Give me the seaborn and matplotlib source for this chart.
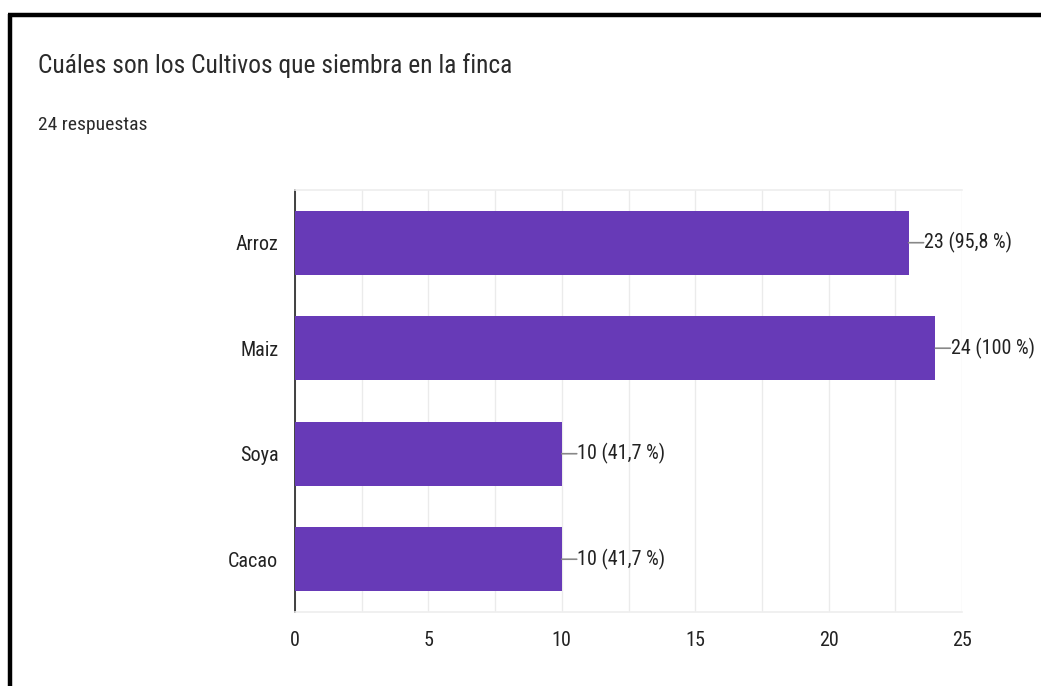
import matplotlib
matplotlib.use("Agg")
import matplotlib.pyplot as plt
from matplotlib.lines import Line2D
from matplotlib import font_manager
import seaborn as sns
import pandas as pd

categories = ["Arroz", "Maiz", "Soya", "Cacao"]
values = [23, 24, 10, 10]
labels = ["23 (95,8 %)", "24 (100 %)", "10 (41,7 %)", "10 (41,7 %)"]
xticks = [0, 5, 10, 15, 20, 25]
title = "Cuáles son los Cultivos que siembra en la finca"
subtitle = "24 respuestas"

sns.set_theme(style="white")
names = {f.name for f in font_manager.fontManager.ttflist}
fam = "DejaVu Sans"
for cand in ["Roboto Condensed", "Archivo Narrow", "Liberation Sans Narrow",
             "Barlow Semi Condensed", "Roboto"]:
    if cand in names:
        fam = cand
        break
plt.rcParams["font.family"] = [fam, "DejaVu Sans"]

df = pd.DataFrame({"cultivo": categories, "n": values})

fig = plt.figure(figsize=(10.41, 6.86), dpi=100)
ax = fig.add_axes([0.2834, 0.1079, 0.6407, 0.6152])
sns.barplot(data=df, x="n", y="cultivo", color="#673AB7", saturation=1,
            width=0.61, ax=ax, zorder=3)
for p in ax.patches:
    p.set_edgecolor("none")

ax.set_xlim(0, 25)
ax.set_ylim(3.5, -0.5)
ax.set_xticks(xticks)
ax.set_xticks([2.5, 7.5, 12.5, 17.5, 22.5], minor=True)
ax.grid(True, axis="x", which="both", color="#ebebeb", linewidth=1, zorder=0)
ax.set_xlabel("")
ax.set_ylabel("")
for s in ["top", "bottom"]:
    ax.spines[s].set_color("#eeeeee")
    ax.spines[s].set_linewidth(1.2)
ax.spines["right"].set_visible(False)
ax.spines["left"].set_color("#333333")
ax.spines["left"].set_linewidth(1.3)
ax.tick_params(axis="both", which="both", length=0, labelsize=14.5, colors="#222222")
ax.tick_params(axis="y", pad=12)
ax.tick_params(axis="x", pad=14)

for i, (v, lab) in enumerate(zip(values, labels)):
    ax.annotate("", xy=(v, i), xytext=(v + 0.56, i),
                arrowprops=dict(arrowstyle="-", color="#888888", lw=1.2,
                                shrinkA=0, shrinkB=0))
    ax.text(v + 0.58, i, lab, va="center", ha="left", fontsize=14.5, color="#222222")

fig.text(38 / 1041, 1 - 66 / 686, title, fontsize=18.4, color="#2b2b2b", va="center")
fig.text(38 / 1041, 1 - 125 / 686, subtitle, fontsize=14, color="#2b2b2b", va="center")

# screenshot frame
fig.add_artist(Line2D([8 / 1041, 1], [1 - 15 / 686, 1 - 15 / 686], color="black",
                      lw=3.2, solid_capstyle="butt", transform=fig.transFigure))
fig.add_artist(Line2D([10 / 1041, 10 / 1041], [0, 1 - 13.5 / 686], color="black",
                      lw=3.2, solid_capstyle="butt", transform=fig.transFigure))

fig.savefig("out.png", dpi=100, facecolor="white")
